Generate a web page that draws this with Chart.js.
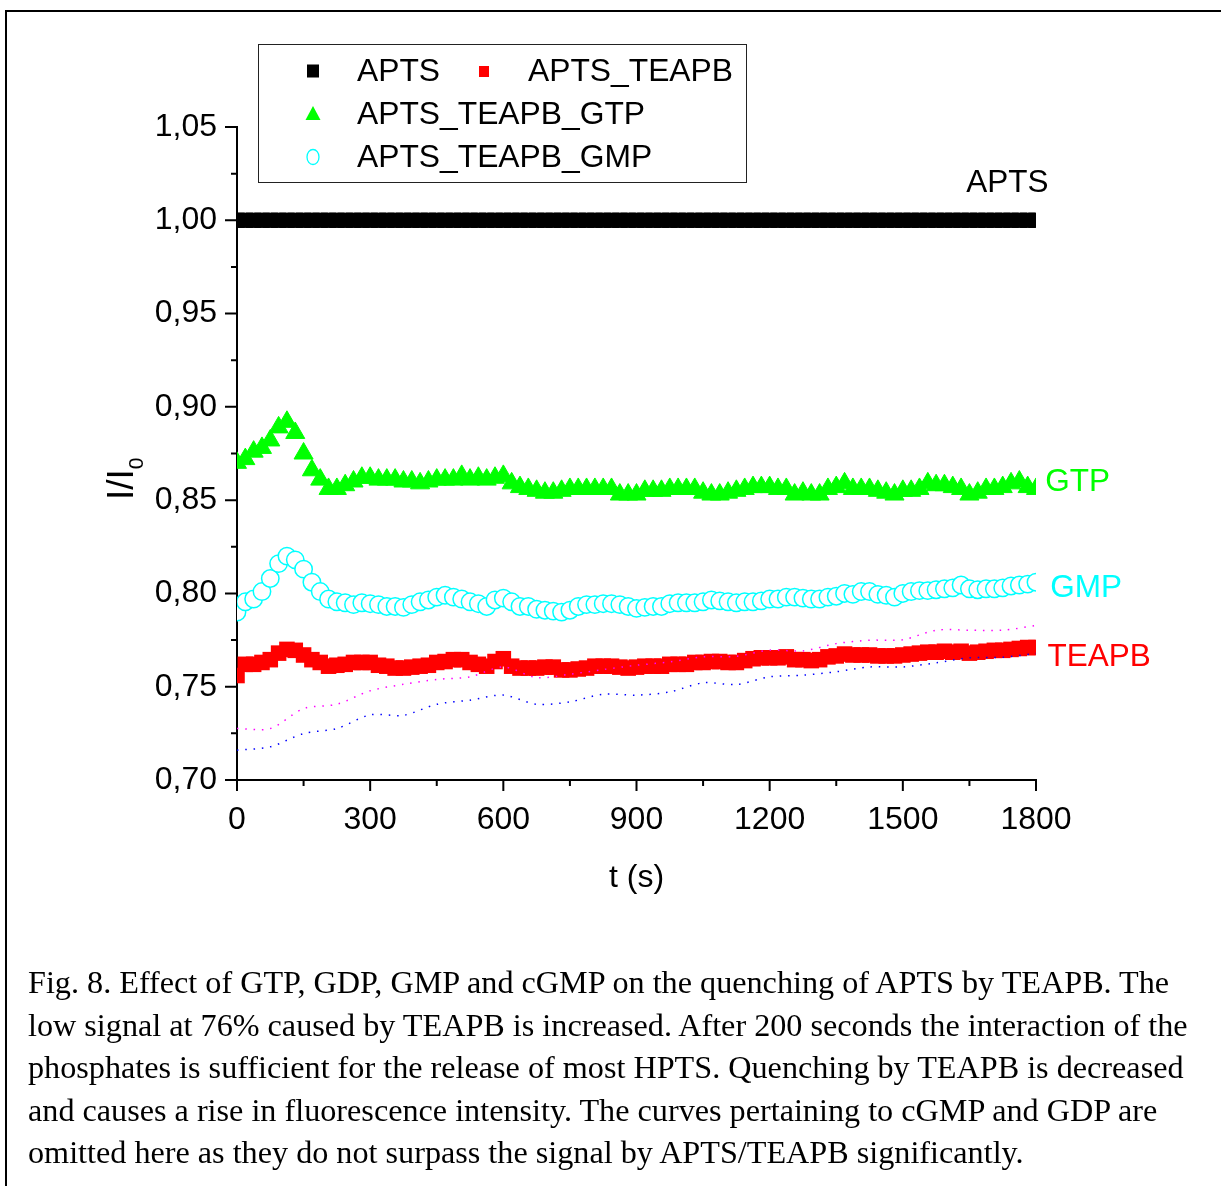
<!DOCTYPE html>
<html>
<head>
<meta charset="utf-8">
<script src="https://cdn.jsdelivr.net/npm/chart.js"></script>
<style>
  html, body { margin: 0; padding: 0; background: #fff; }
  #page { position: relative; width: 1221px; height: 1186px; overflow: hidden; background: #fff; }
  #chart { position: absolute; left: 0; top: 0; }
  .frame-top { position: absolute; left: 5px; top: 10px; width: 1216px; height: 2px; background: #000; }
  .frame-left { position: absolute; left: 5px; top: 10px; width: 2px; height: 1176px; background: #000; }
  #caption {
    position: absolute; left: 28px; top: 961px;
    font-family: "Liberation Serif", "Times New Roman", serif;
    font-size: 32.2px; line-height: 42.5px; color: #000; white-space: nowrap;
  }
</style>
</head>
<body>
<div id="page">
  <canvas id="chart" width="1221" height="1186"></canvas>
  <div class="frame-top"></div>
  <div class="frame-left"></div>
  <div id="caption">Fig. 8. Effect of GTP, GDP, GMP and cGMP on the quenching of APTS by TEAPB. The<br>low signal at 76% caused by TEAPB is increased. After 200 seconds the interaction of the<br>phosphates is sufficient for the release of most HPTS. Quenching by TEAPB is decreased<br>and causes a rise in fluorescence intensity. The curves pertaining to cGMP and GDP are<br>omitted here as they do not surpass the signal by APTS/TEAPB significantly.</div>
</div>
<script>
// Sampling times (s)
const times = [
  0, 18.75, 37.5, 56.25, 75, 93.75, 112.5, 131.25,
  150, 168.75, 187.5, 206.25, 225, 243.75, 262.5, 281.25,
  300, 318.75, 337.5, 356.25, 375, 393.75, 412.5, 431.25,
  450, 468.75, 487.5, 506.25, 525, 543.75, 562.5, 581.25,
  600, 618.75, 637.5, 656.25, 675, 693.75, 712.5, 731.25,
  750, 768.75, 787.5, 806.25, 825, 843.75, 862.5, 881.25,
  900, 918.75, 937.5, 956.25, 975, 993.75, 1012.5, 1031.25,
  1050, 1068.75, 1087.5, 1106.25, 1125, 1143.75, 1162.5, 1181.25,
  1200, 1218.75, 1237.5, 1256.25, 1275, 1293.75, 1312.5, 1331.25,
  1350, 1368.75, 1387.5, 1406.25, 1425, 1443.75, 1462.5, 1481.25,
  1500, 1518.75, 1537.5, 1556.25, 1575, 1593.75, 1612.5, 1631.25,
  1650, 1668.75, 1687.5, 1706.25, 1725, 1743.75, 1762.5, 1781.25,
  1800
];

// I/I0 for APTS alone
const apts = [
  1.00, 1.00, 1.00, 1.00, 1.00, 1.00, 1.00, 1.00,
  1.00, 1.00, 1.00, 1.00, 1.00, 1.00, 1.00, 1.00,
  1.00, 1.00, 1.00, 1.00, 1.00, 1.00, 1.00, 1.00,
  1.00, 1.00, 1.00, 1.00, 1.00, 1.00, 1.00, 1.00,
  1.00, 1.00, 1.00, 1.00, 1.00, 1.00, 1.00, 1.00,
  1.00, 1.00, 1.00, 1.00, 1.00, 1.00, 1.00, 1.00,
  1.00, 1.00, 1.00, 1.00, 1.00, 1.00, 1.00, 1.00,
  1.00, 1.00, 1.00, 1.00, 1.00, 1.00, 1.00, 1.00,
  1.00, 1.00, 1.00, 1.00, 1.00, 1.00, 1.00, 1.00,
  1.00, 1.00, 1.00, 1.00, 1.00, 1.00, 1.00, 1.00,
  1.00, 1.00, 1.00, 1.00, 1.00, 1.00, 1.00, 1.00,
  1.00, 1.00, 1.00, 1.00, 1.00, 1.00, 1.00, 1.00,
  1.00
];

// APTS + TEAPB
const aptsTeapb = [
  0.756, 0.762, 0.762, 0.763, 0.7645, 0.768, 0.770, 0.7695,
  0.767, 0.7645, 0.763, 0.761, 0.7615, 0.762, 0.763, 0.763,
  0.763, 0.7615, 0.761, 0.760, 0.760, 0.7605, 0.761, 0.7615,
  0.763, 0.7635, 0.7645, 0.7645, 0.763, 0.762, 0.761, 0.7635,
  0.765, 0.761, 0.760, 0.760, 0.760, 0.7605, 0.7605, 0.759,
  0.759, 0.7595, 0.760, 0.761, 0.761, 0.761, 0.7605, 0.760,
  0.7605, 0.761, 0.761, 0.761, 0.762, 0.762, 0.762, 0.763,
  0.763, 0.7635, 0.7635, 0.763, 0.763, 0.764, 0.765, 0.7655,
  0.7655, 0.7655, 0.766, 0.7645, 0.7645, 0.764, 0.7645, 0.766,
  0.7665, 0.7675, 0.767, 0.767, 0.767, 0.7665, 0.7665, 0.7665,
  0.767, 0.7675, 0.768, 0.7685, 0.7685, 0.769, 0.7685, 0.769,
  0.768, 0.7685, 0.769, 0.7695, 0.7695, 0.770, 0.7705, 0.771,
  0.771
];

// APTS + TEAPB + GTP
const aptsTeapbGtp = [
  0.870, 0.872, 0.876, 0.878, 0.882, 0.889, 0.892, 0.886,
  0.875, 0.866, 0.861, 0.856, 0.856, 0.858, 0.860, 0.862,
  0.862, 0.861, 0.861, 0.861, 0.860, 0.860, 0.859, 0.860,
  0.861, 0.861, 0.861, 0.863, 0.861, 0.862, 0.861, 0.862,
  0.863, 0.859, 0.857, 0.856, 0.855, 0.854, 0.854, 0.855,
  0.856, 0.856, 0.856, 0.856, 0.856, 0.856, 0.853, 0.853,
  0.853, 0.855, 0.855, 0.855, 0.856, 0.856, 0.856, 0.856,
  0.854, 0.853, 0.853, 0.854, 0.855, 0.856, 0.857, 0.857,
  0.857, 0.856, 0.856, 0.853, 0.854, 0.853, 0.853, 0.856,
  0.857, 0.859, 0.856, 0.856, 0.856, 0.855, 0.854, 0.853,
  0.855, 0.855, 0.856, 0.859, 0.858, 0.858, 0.857, 0.856,
  0.853, 0.854, 0.856, 0.856, 0.857, 0.859, 0.860, 0.857,
  0.856
];

// APTS + TEAPB + GMP
const aptsTeapbGmp = [
  0.790, 0.7955, 0.797, 0.801, 0.808, 0.816, 0.820, 0.818,
  0.813, 0.806, 0.801, 0.797, 0.7955, 0.795, 0.794, 0.795,
  0.7945, 0.794, 0.793, 0.793, 0.7925, 0.794, 0.7955, 0.7965,
  0.798, 0.799, 0.798, 0.797, 0.7955, 0.7945, 0.793, 0.7965,
  0.7975, 0.7955, 0.793, 0.793, 0.7915, 0.791, 0.7905, 0.790,
  0.791, 0.793, 0.794, 0.794, 0.7945, 0.7945, 0.794, 0.793,
  0.792, 0.7925, 0.793, 0.793, 0.7945, 0.795, 0.795, 0.795,
  0.7955, 0.7965, 0.796, 0.7955, 0.795, 0.7955, 0.7955, 0.796,
  0.797, 0.797, 0.798, 0.798, 0.7975, 0.797, 0.797, 0.798,
  0.7985, 0.800, 0.7995, 0.801, 0.801, 0.7995, 0.799, 0.798,
  0.800, 0.801, 0.8015, 0.8015, 0.802, 0.8025, 0.803, 0.8045,
  0.8025, 0.802, 0.8025, 0.8025, 0.803, 0.804, 0.8045, 0.805,
  0.806
];

// Two further runs shown as dotted traces
const dottedTimes = [
  0, 75, 150, 225, 300, 375, 450, 525, 600, 675, 750, 825, 900,
  975, 1050, 1125, 1200, 1275, 1350, 1425, 1500, 1575, 1650, 1725, 1800
];
const dottedMagenta = [
  0.7276, 0.7276, 0.7383, 0.7406, 0.7478, 0.7513, 0.7539, 0.7553, 0.7606,
  0.7549, 0.7567, 0.7592, 0.7615, 0.7633, 0.7660, 0.7663, 0.7696,
  0.7692, 0.7731, 0.7749, 0.7752, 0.7803, 0.7803, 0.7803, 0.7828
];
const dottedBlue = [
  0.7160, 0.7178, 0.7249, 0.7276, 0.7349, 0.7347, 0.7406, 0.7428, 0.7455,
  0.7406, 0.7419, 0.7460, 0.7455, 0.7472, 0.7521, 0.7512, 0.7553,
  0.7562, 0.7580, 0.7606, 0.7606, 0.7628, 0.7655, 0.7658, 0.7678
];

// Axis ticks
const xTickStep = 300;
const yTickStep = 0.05;
const xRange = [0, 1800];
const yRange = [0.70, 1.05];

// Curve labels placed at (t, I/I0)
const curveLabels = [
  { text: 'APTS',  color: '#000000', t: 1643, v: 1.0200 },
  { text: 'GTP',   color: '#00ff00', t: 1821, v: 0.8598 },
  { text: 'GMP',   color: '#00ffff', t: 1832, v: 0.8025 },
  { text: 'TEAPB', color: '#ff0000', t: 1826, v: 0.7660 }
];

const FONT = '"Liberation Sans", Arial, sans-serif';
Chart.defaults.color = '#000';
Chart.defaults.font.family = FONT;

const toPoints = (xs, ys) => xs.map((x, i) => ({ x: x, y: ys[i] }));

const axisTicks = {
  id: 'axisTicks',
  afterDraw(chart) {
    const ctx = chart.ctx;
    const xs = chart.scales.x, ys = chart.scales.y;
    const area = chart.chartArea;
    ctx.save();
    ctx.strokeStyle = '#000';
    ctx.lineWidth = 2;
    const yt = ys.ticks.map(t => t.value);
    ctx.beginPath();
    yt.forEach((v, i) => {
      const p = ys.getPixelForValue(v);
      ctx.moveTo(area.left, p); ctx.lineTo(area.left - 12, p);
      if (i < yt.length - 1) {
        const pm = ys.getPixelForValue((v + yt[i + 1]) / 2);
        ctx.moveTo(area.left, pm); ctx.lineTo(area.left - 6, pm);
      }
    });
    const xt = xs.ticks.map(t => t.value);
    xt.forEach((v, i) => {
      const p = xs.getPixelForValue(v);
      ctx.moveTo(p, area.bottom); ctx.lineTo(p, area.bottom + 11);
      if (i < xt.length - 1) {
        const pm = xs.getPixelForValue((v + xt[i + 1]) / 2);
        ctx.moveTo(pm, area.bottom); ctx.lineTo(pm, area.bottom + 6);
      }
    });
    ctx.stroke();

    // y-axis title I/I0
    ctx.fillStyle = '#000';
    ctx.translate(132.7, 500);
    ctx.rotate(-Math.PI / 2);
    ctx.textBaseline = 'alphabetic';
    ctx.textAlign = 'left';
    ctx.font = '37px ' + FONT;
    ctx.fillText('I/I', 0, 0);
    const w = ctx.measureText('I/I').width;
    ctx.font = '21px ' + FONT;
    ctx.fillText('0', w, 10.3);
    ctx.restore();

    // curve labels
    ctx.save();
    ctx.font = '31.5px ' + FONT;
    ctx.textBaseline = 'middle';
    ctx.textAlign = 'left';
    curveLabels.forEach(l => {
      ctx.fillStyle = l.color;
      ctx.fillText(l.text, xs.getPixelForValue(l.t), ys.getPixelForValue(l.v));
    });
    ctx.restore();

    // legend box
    ctx.save();
    ctx.strokeStyle = '#222';
    ctx.lineWidth = 1;
    ctx.strokeRect(258.5, 44.5, 488, 138);
    ctx.fillStyle = '#000';
    ctx.fillRect(307, 64.5, 12, 13);
    ctx.fillStyle = '#ff0000';
    ctx.fillRect(479, 66, 10, 11);
    ctx.fillStyle = '#00ff00';
    ctx.beginPath();
    ctx.moveTo(313, 106); ctx.lineTo(320.5, 120); ctx.lineTo(305.5, 120); ctx.closePath();
    ctx.fill();
    ctx.strokeStyle = '#00ffff';
    ctx.lineWidth = 1.3;
    ctx.beginPath();
    ctx.ellipse(313, 157, 6, 7.5, 0, 0, Math.PI * 2);
    ctx.stroke();
    ctx.fillStyle = '#000';
    ctx.font = '31.8px ' + FONT;
    ctx.textBaseline = 'middle';
    ctx.fillText(chart.data.datasets[0].label, 357, 72);
    ctx.fillText(chart.data.datasets[1].label, 528, 72);
    ctx.fillText(chart.data.datasets[2].label, 357, 115);
    ctx.fillText(chart.data.datasets[3].label, 357, 158);
    ctx.restore();
  }
};

new Chart(document.getElementById('chart'), {
  type: 'scatter',
  data: {
    datasets: [
      {
        label: 'APTS', data: toPoints(times, apts), order: 5, clip: 0,
        pointStyle: 'rect', pointRadius: 10.8, pointBackgroundColor: '#000', pointBorderColor: '#000', pointBorderWidth: 0
      },
      {
        label: 'APTS_TEAPB', data: toPoints(times, aptsTeapb), order: 4, clip: 0,
        pointStyle: 'rect', pointRadius: 11, pointBackgroundColor: '#ff0000', pointBorderColor: '#ff0000', pointBorderWidth: 0
      },
      {
        label: 'APTS_TEAPB_GTP', data: toPoints(times, aptsTeapbGtp), order: 3, clip: 0,
        pointStyle: 'triangle', pointRadius: 11, pointBackgroundColor: '#00ff00', pointBorderColor: '#00ff00', pointBorderWidth: 1
      },
      {
        label: 'APTS_TEAPB_GMP', data: toPoints(times, aptsTeapbGmp), order: 2, clip: 0,
        pointStyle: 'circle', pointRadius: 8.7, pointBackgroundColor: '#ffffff', pointBorderColor: '#00ffff', pointBorderWidth: 1.5
      },
      {
        label: 'dotted_1', data: toPoints(dottedTimes, dottedMagenta), order: 1, clip: 0,
        showLine: true, pointRadius: 0, borderColor: '#ff00ff', borderWidth: 1.5, borderDash: [1.5, 6.8], tension: 0.3
      },
      {
        label: 'dotted_2', data: toPoints(dottedTimes, dottedBlue), order: 0, clip: 0,
        showLine: true, pointRadius: 0, borderColor: '#0000ff', borderWidth: 1.5, borderDash: [1.5, 6.8], tension: 0.3
      }
    ]
  },
  options: {
    responsive: false,
    animation: false,
    events: [],
    layout: { padding: { top: 127, right: 185, bottom: 288.4, left: 0 } },
    plugins: { legend: { display: false }, tooltip: { enabled: false } },
    scales: {
      x: {
        type: 'linear', min: xRange[0], max: xRange[1],
        afterFit(scale) { scale.height = 117.6; },
        border: { display: true, color: '#000', width: 2 },
        grid: { display: false, drawTicks: true, tickLength: 11 },
        ticks: { stepSize: xTickStep, padding: 9.5, maxRotation: 0, font: { size: 32 }, callback: v => String(v) },
        title: { display: true, text: 't (s)', font: { size: 32 }, padding: { top: 0, bottom: 0 } }
      },
      y: {
        type: 'linear', min: yRange[0], max: yRange[1],
        afterFit(scale) { scale.width = 237; },
        border: { display: true, color: '#000', width: 2 },
        grid: { display: false, drawTicks: true, tickLength: 12 },
        ticks: { stepSize: yTickStep, padding: 8, font: { size: 32 }, callback: v => v.toFixed(2).replace('.', ',') }
      }
    }
  },
  plugins: [axisTicks]
});
</script>
</body>
</html>
